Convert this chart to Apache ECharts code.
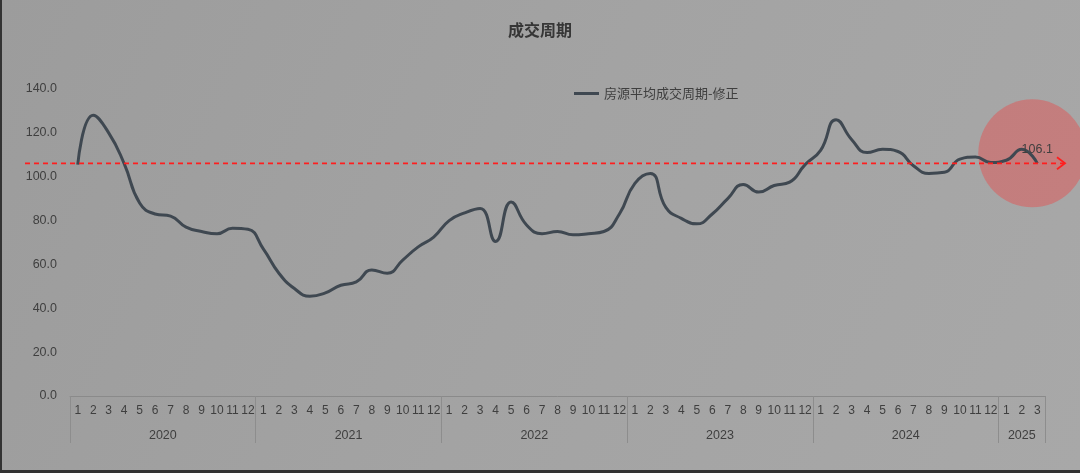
<!DOCTYPE html>
<html>
<head>
<meta charset="utf-8">
<script src="https://cdn.jsdelivr.net/npm/echarts@6/dist/echarts.min.js"></script>
<style>
html,body{margin:0;padding:0;background:#2e2e2e;}
#c{width:1080px;height:473px;}
</style>
</head>
<body>
<div id="c"></div>
<script>
const years = ['2020','2021','2022','2023','2024','2025'];
const monthsPerYear = [12,12,12,12,12,3];
const seriesName = '房源平均成交周期-修正';
const values2020 = [105.5,128,120,106,88,83,82,77,75,74,76.5,76];
const values2021 = [67,56,49,45.5,47,50.5,52,57.5,56,62,68,72.5];
const values2022 = [80,83.5,85.5,70.5,88.5,78,74,75,73.5,74,75,83];
const values2023 = [97,101.5,86,81,78.5,83,90,96.5,93,96,97.5,105.5];
const values2024 = [112,126,117,111,112.5,111.5,105,101.5,102,108,109,106.5];
const values2025 = [107.5,112.5,106.1];
const yTicks = [0,20,40,60,80,100,120,140];

const categories = [];
years.forEach((y,i)=>{ for(let m=1;m<=monthsPerYear[i];m++) categories.push(y+'-'+m); });
const values = [].concat(values2020,values2021,values2022,values2023,values2024,values2025);
const bounds = [0]; monthsPerYear.forEach(n=>bounds.push(bounds[bounds.length-1]+n));
const yearCenters = years.map((y,i)=>(bounds[i]+bounds[i+1])/2);

const font = '"Liberation Sans", "Noto Sans CJK SC", sans-serif';
const txt = '#3f3f3f';
const chart = echarts.init(document.getElementById('c'));
const option = {
  backgroundColor: {
    type:'linear', x:0, y:0, x2:1, y2:1,
    colorStops:[{offset:0,color:'#9c9c9c'},{offset:0.5,color:'#a3a3a3'},{offset:1,color:'#a8a8a8'}]
  },
  animation:false,
  title:{text:'成交周期', left:'center', top:17,
    textStyle:{fontFamily:'"Noto Sans CJK SC", sans-serif', fontSize:16, fontWeight:'bold', color:'#363636'}},
  legend:{data:[seriesName], left:569, top:82, itemWidth:25, itemHeight:3, itemGap:3,
    icon:'rect',
    textStyle:{fontFamily:'"Noto Sans CJK SC", sans-serif', fontSize:13, color:txt}},
  grid:{left:70, right:35, top:89, bottom:77},
  xAxis:[{
    type:'category', data:categories, boundaryGap:true,
    axisLine:{show:true, lineStyle:{color:'#8a8a8a', width:1}},
    axisTick:{show:false},
    axisLabel:{interval:0, margin:9, fontSize:12, fontFamily:font, color:txt,
      formatter:(v)=>v.split('-')[1]},
    splitLine:{show:false}
  },{
    type:'value', min:0, max:bounds[bounds.length-1], position:'bottom',
    axisLine:{show:false},
    axisTick:{show:true, length:47, customValues:bounds, lineStyle:{color:'#8d8d8d'}},
    axisLabel:{show:true, customValues:yearCenters, margin:33, fontSize:12.5, fontFamily:font, color:txt,
      formatter:(v)=>{const i=yearCenters.indexOf(v); return i>=0?years[i]:'';}},
    splitLine:{show:false}
  }],
  yAxis:{type:'value', min:yTicks[0], max:yTicks[yTicks.length-1], interval:20,
    axisLine:{show:false}, axisTick:{show:false}, splitLine:{show:false},
    axisLabel:{margin:13, fontSize:12.5, fontFamily:font, color:txt, formatter:(v)=>v.toFixed(1)}},
  series:[{
    name:seriesName, type:'line', xAxisIndex:0, data:values, smooth:0.5,
    symbol:'none', lineStyle:{color:'#3f4851', width:3}, itemStyle:{color:'#3f4851'},
    markPoint:{symbol:'circle', symbolSize:0,
      data:[{coord:[values.length-1, values[values.length-1]], value:values[values.length-1]}],
      label:{show:true, position:'top', distance:8, fontSize:12.5, fontFamily:font, color:txt,
        formatter:(p)=>p.value.toFixed(1)}}
  }]
};
chart.setOption(option);

const lastIdx = values.length-1;
const lastPt = chart.convertToPixel({xAxisIndex:0, yAxisIndex:0}, [lastIdx, values[lastIdx]]);
const yLine = lastPt[1];
chart.setOption({
  graphic:[
    {type:'circle', shape:{cx:lastPt[0]-5, cy:lastPt[1]-10, r:54}, z:1,
      style:{fill:'rgba(236,70,70,0.42)'}},
    {type:'line', shape:{x1:25, y1:yLine, x2:1064, y2:yLine}, z:100,
      style:{stroke:'#ff1e1e', lineWidth:1.8, lineDash:[5,4]}},
    {type:'polyline', shape:{points:[[1057,yLine-6],[1065,yLine],[1057,yLine+6]]}, z:100,
      style:{stroke:'#ff1e1e', lineWidth:1.8, fill:null}},
    {type:'rect', shape:{x:0,y:0,width:2,height:473}, style:{fill:'#333'}, z:100},
    {type:'rect', shape:{x:0,y:470,width:1080,height:3}, style:{fill:'#333'}, z:100}
  ]
});
</script>
</body>
</html>
